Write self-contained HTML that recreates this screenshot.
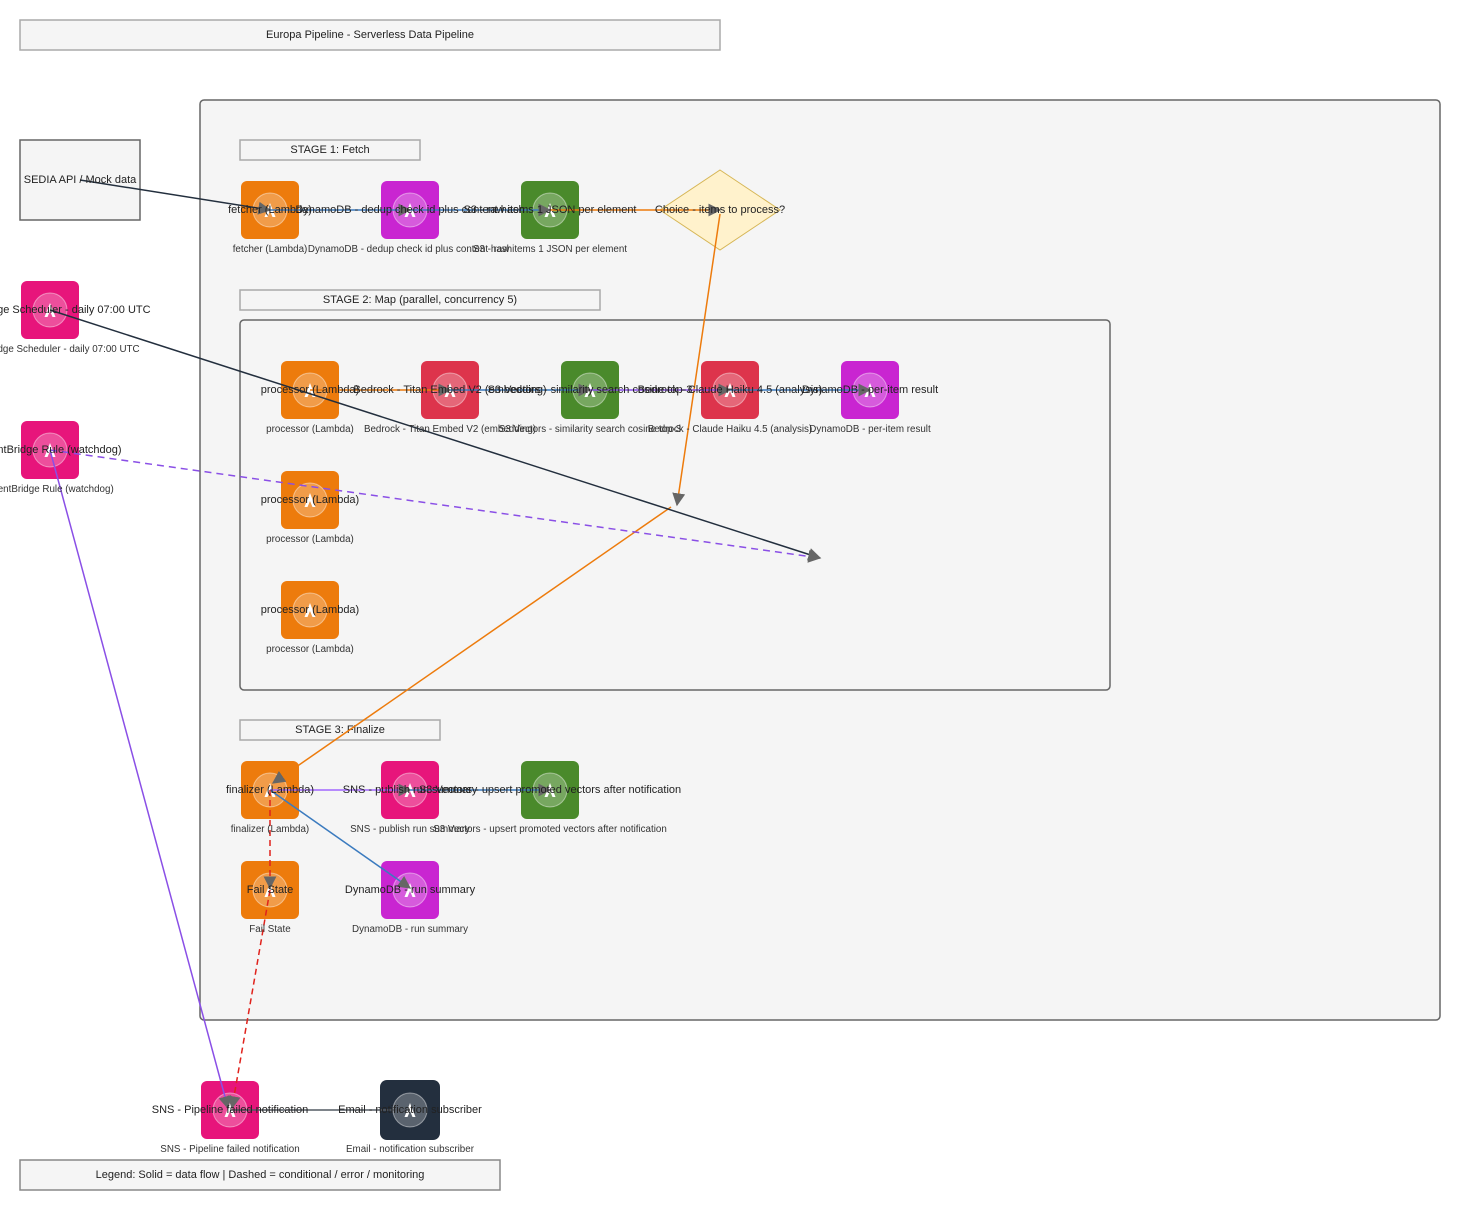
<!DOCTYPE html>
<html><head><meta charset="utf-8"><style>
html,body{margin:0;padding:0;background:#fff;}
svg{display:block;font-family:"Liberation Sans",sans-serif;}
.c{font-size:11px;fill:#222;text-anchor:middle;}
.b{font-size:9.8px;fill:#333;text-anchor:middle;}
.ic{fill:#fff;fill-opacity:.25;stroke:#fff;stroke-opacity:.45;stroke-width:1}
</style></head><body>
<svg width="1460" height="1210" viewBox="0 0 1460 1210" xmlns="http://www.w3.org/2000/svg">
<defs>
<marker id="a" viewBox="0 0 10 10" refX="9" refY="5" markerWidth="13" markerHeight="13" markerUnits="userSpaceOnUse" orient="auto"><path d="M0,0 L10,5 L0,10 z" fill="#666"/></marker>
<symbol id="n" viewBox="0 0 58 58"><circle cx="29" cy="29" r="17" class="ic"/><path d="M23.5,36 L29,22 L34.5,36 L31.5,36 L29,30 L26.5,36 z" fill="#fff"/></symbol>
</defs>
<rect x="20" y="20" width="700" height="30" fill="#f5f5f5" stroke="#aaa" stroke-width="1.5"/>
<text x="370" y="38" class="c">Europa Pipeline - Serverless Data Pipeline</text>
<rect x="200" y="100" width="1240" height="920" rx="4" fill="#f5f5f5" stroke="#666" stroke-width="1.5"/>
<rect x="20" y="140" width="120" height="80" fill="#f5f5f5" stroke="#666" stroke-width="1.5"/>
<rect x="240" y="140" width="180" height="20" fill="#f5f5f5" stroke="#aaa" stroke-width="1.5"/>
<text x="330" y="153" class="c">STAGE 1: Fetch</text>
<rect x="240" y="290" width="360" height="20" fill="#f5f5f5" stroke="#aaa" stroke-width="1.5"/>
<text x="420" y="303" class="c">STAGE 2: Map (parallel, concurrency 5)</text>
<rect x="240" y="320" width="870" height="370" rx="4" fill="#f5f5f5" stroke="#666" stroke-width="1.5"/>
<rect x="240" y="720" width="200" height="20" fill="#f5f5f5" stroke="#aaa" stroke-width="1.5"/>
<text x="340" y="733" class="c">STAGE 3: Finalize</text>
<rect x="20" y="1160" width="480" height="30" fill="#f5f5f5" stroke="#888" stroke-width="1.5"/>
<text x="260" y="1178" class="c">Legend: Solid = data flow | Dashed = conditional / error / monitoring</text>
<polygon points="720,170 780,210 720,250 660,210" fill="#fff2cc" stroke="#d6b656"/>

<g>
<rect x="241" y="181" width="58" height="58" rx="6" fill="#ED7B0C"/><use href="#n" x="241" y="181" width="58" height="58"/>
<rect x="381" y="181" width="58" height="58" rx="6" fill="#C925D1"/><use href="#n" x="381" y="181" width="58" height="58"/>
<rect x="521" y="181" width="58" height="58" rx="6" fill="#4A8A2B"/><use href="#n" x="521" y="181" width="58" height="58"/>
<rect x="21" y="281" width="58" height="58" rx="6" fill="#E7157B"/><use href="#n" x="21" y="281" width="58" height="58"/>
<rect x="21" y="421" width="58" height="58" rx="6" fill="#E7157B"/><use href="#n" x="21" y="421" width="58" height="58"/>
<rect x="281" y="361" width="58" height="58" rx="6" fill="#ED7B0C"/><use href="#n" x="281" y="361" width="58" height="58"/>
<rect x="421" y="361" width="58" height="58" rx="6" fill="#DD344C"/><use href="#n" x="421" y="361" width="58" height="58"/>
<rect x="561" y="361" width="58" height="58" rx="6" fill="#4A8A2B"/><use href="#n" x="561" y="361" width="58" height="58"/>
<rect x="701" y="361" width="58" height="58" rx="6" fill="#DD344C"/><use href="#n" x="701" y="361" width="58" height="58"/>
<rect x="841" y="361" width="58" height="58" rx="6" fill="#C925D1"/><use href="#n" x="841" y="361" width="58" height="58"/>
<rect x="281" y="471" width="58" height="58" rx="6" fill="#ED7B0C"/><use href="#n" x="281" y="471" width="58" height="58"/>
<rect x="281" y="581" width="58" height="58" rx="6" fill="#ED7B0C"/><use href="#n" x="281" y="581" width="58" height="58"/>
<rect x="241" y="761" width="58" height="58" rx="6" fill="#ED7B0C"/><use href="#n" x="241" y="761" width="58" height="58"/>
<rect x="381" y="761" width="58" height="58" rx="6" fill="#E7157B"/><use href="#n" x="381" y="761" width="58" height="58"/>
<rect x="521" y="761" width="58" height="58" rx="6" fill="#4A8A2B"/><use href="#n" x="521" y="761" width="58" height="58"/>
<rect x="241" y="861" width="58" height="58" rx="6" fill="#ED7B0C"/><use href="#n" x="241" y="861" width="58" height="58"/>
<rect x="381" y="861" width="58" height="58" rx="6" fill="#C925D1"/><use href="#n" x="381" y="861" width="58" height="58"/>
<rect x="201" y="1081" width="58" height="58" rx="6" fill="#E7157B"/><use href="#n" x="201" y="1081" width="58" height="58"/>
<rect x="380" y="1080" width="60" height="60" rx="7" fill="#232F3E"/><use href="#n" x="381" y="1081" width="58" height="58"/>
</g>

<g fill="none" stroke-width="1.5">
<line x1="80" y1="180" x2="270" y2="210" stroke="#232F3E" marker-end="url(#a)"/>
<line x1="270" y1="210" x2="410" y2="210" stroke="#3B7BBF" marker-end="url(#a)"/>
<line x1="410" y1="210" x2="550" y2="210" stroke="#3B7BBF" marker-end="url(#a)"/>
<line x1="550" y1="210" x2="720" y2="210" stroke="#ED7B0C" marker-end="url(#a)"/>
<line x1="720" y1="214" x2="677" y2="505" stroke="#ED7B0C" marker-end="url(#a)"/>
<line x1="671" y1="507" x2="273" y2="783" stroke="#ED7B0C" marker-end="url(#a)"/>
<line x1="50" y1="310" x2="820" y2="558" stroke="#232F3E" marker-end="url(#a)"/>
<line x1="50" y1="450" x2="820" y2="558" stroke="#8A4FE6" stroke-dasharray="7,5" marker-end="url(#a)"/>
<line x1="50" y1="450" x2="228" y2="1108" stroke="#8A4FE6" marker-end="url(#a)"/>
<line x1="310" y1="390" x2="450" y2="390" stroke="#ED7B0C" marker-end="url(#a)"/>
<line x1="450" y1="390" x2="590" y2="390" stroke="#3B7BBF" marker-end="url(#a)"/>
<line x1="590" y1="390" x2="730" y2="390" stroke="#8A4FE6" marker-end="url(#a)"/>
<line x1="730" y1="390" x2="870" y2="390" stroke="#3B7BBF" marker-end="url(#a)"/>
<line x1="270" y1="790" x2="410" y2="790" stroke="#A166FF" marker-end="url(#a)"/>
<line x1="410" y1="790" x2="550" y2="790" stroke="#3B7BBF" marker-end="url(#a)"/>
<line x1="270" y1="790" x2="410" y2="888" stroke="#3B7BBF" marker-end="url(#a)"/>
<line x1="270" y1="790" x2="270" y2="888" stroke="#E0221C" stroke-dasharray="6,4" marker-end="url(#a)"/>
<line x1="270" y1="890" x2="232" y2="1108" stroke="#E0221C" stroke-dasharray="6,4" marker-end="url(#a)"/>
<line x1="230" y1="1110" x2="410" y2="1110" stroke="#545B64"/>
</g>

<text x="80" y="183" class="c">SEDIA API / Mock data</text>
<text x="270" y="213" class="c">fetcher (Lambda)</text><text x="270" y="252" class="b">fetcher (Lambda)</text>
<text x="410" y="213" class="c">DynamoDB - dedup check id plus content hash</text><text x="410" y="252" class="b">DynamoDB - dedup check id plus content hash</text>
<text x="550" y="213" class="c">S3 - raw items 1 JSON per element</text><text x="550" y="252" class="b">S3 - raw items 1 JSON per element</text>
<text x="720" y="213" class="c">Choice - items to process?</text>
<text x="50" y="313" class="c">EventBridge Scheduler - daily 07:00 UTC</text><text x="50" y="352" class="b">EventBridge Scheduler - daily 07:00 UTC</text>
<text x="50" y="453" class="c">EventBridge Rule (watchdog)</text><text x="50" y="492" class="b">EventBridge Rule (watchdog)</text>
<text x="310" y="393" class="c">processor (Lambda)</text><text x="310" y="432" class="b">processor (Lambda)</text>
<text x="450" y="393" class="c">Bedrock - Titan Embed V2 (embedding)</text><text x="450" y="432" class="b">Bedrock - Titan Embed V2 (embedding)</text>
<text x="590" y="393" class="c">S3 Vectors - similarity search cosine top-3</text><text x="590" y="432" class="b">S3 Vectors - similarity search cosine top-3</text>
<text x="730" y="393" class="c">Bedrock - Claude Haiku 4.5 (analysis)</text><text x="730" y="432" class="b">Bedrock - Claude Haiku 4.5 (analysis)</text>
<text x="870" y="393" class="c">DynamoDB - per-item result</text><text x="870" y="432" class="b">DynamoDB - per-item result</text>
<text x="310" y="503" class="c">processor (Lambda)</text><text x="310" y="542" class="b">processor (Lambda)</text>
<text x="310" y="613" class="c">processor (Lambda)</text><text x="310" y="652" class="b">processor (Lambda)</text>
<text x="270" y="793" class="c">finalizer (Lambda)</text><text x="270" y="832" class="b">finalizer (Lambda)</text>
<text x="410" y="793" class="c">SNS - publish run summary</text><text x="410" y="832" class="b">SNS - publish run summary</text>
<text x="550" y="793" class="c">S3 Vectors - upsert promoted vectors after notification</text><text x="550" y="832" class="b">S3 Vectors - upsert promoted vectors after notification</text>
<text x="270" y="893" class="c">Fail State</text><text x="270" y="932" class="b">Fail State</text>
<text x="410" y="893" class="c">DynamoDB - run summary</text><text x="410" y="932" class="b">DynamoDB - run summary</text>
<text x="230" y="1113" class="c">SNS - Pipeline failed notification</text><text x="230" y="1152" class="b">SNS - Pipeline failed notification</text>
<text x="410" y="1113" class="c">Email - notification subscriber</text><text x="410" y="1152" class="b">Email - notification subscriber</text>
</svg>
</body></html>
